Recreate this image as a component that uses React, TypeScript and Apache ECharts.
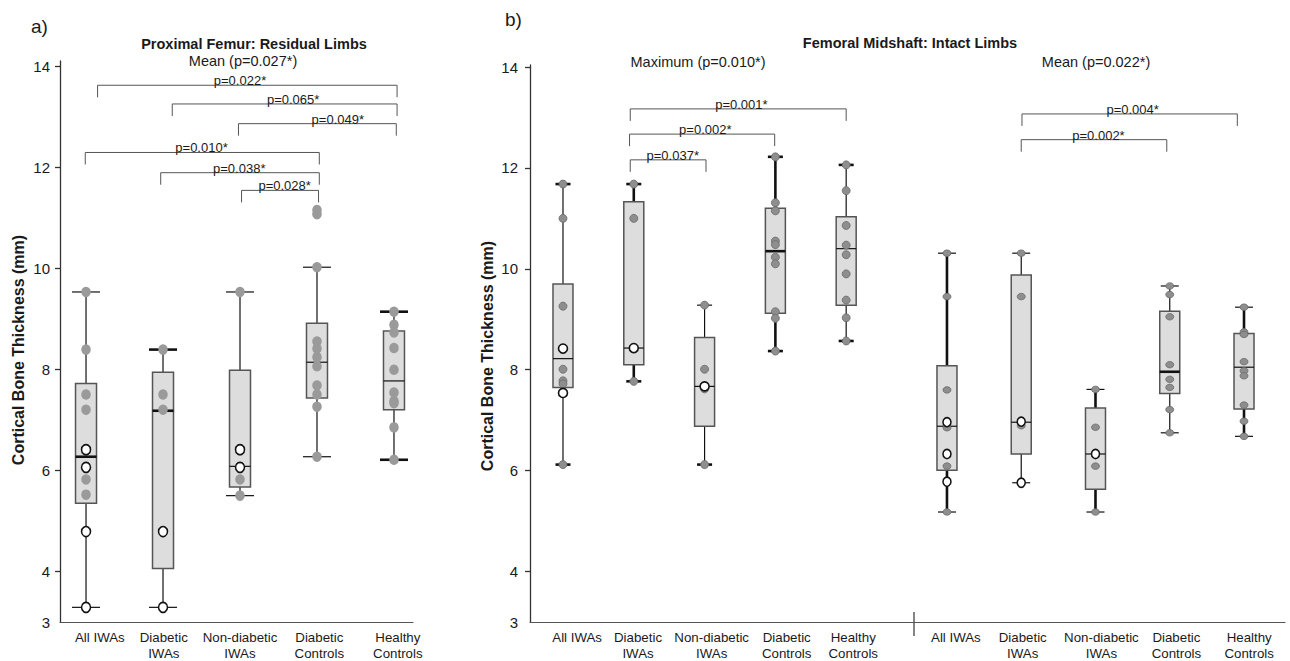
import React, { useEffect, useRef } from "react";
import * as echarts from "echarts";

const FONT = "Liberation Sans, Arial, Helvetica, sans-serif";

const categories = ["All IWAs", "Diabetic\nIWAs", "Non-diabetic\nIWAs", "Diabetic\nControls", "Healthy\nControls"];
const yLabelValues = [3, 4, 6, 8, 10, 12, 14];
const yTickValues = [4, 6, 8, 10, 12, 14];

// Proximal femur, residual limbs, mean: [min, Q1, median, Q3, max]
const residualMeanBox = [
  [3.29, 5.35, 6.27, 7.72, 9.53],
  [3.29, 4.06, 7.18, 7.94, 8.39],
  [5.5, 5.67, 6.08, 7.98, 9.53],
  [6.27, 7.43, 8.14, 8.91, 10.02],
  [6.21, 7.2, 7.77, 8.76, 9.14],
];
const residualMeanFilled = [
  [9.53, 8.39, 7.5, 7.2, 5.82, 5.52],
  [8.39, 7.5, 7.2],
  [9.53, 5.82, 5.5],
  [11.15, 11.07, 10.02, 8.55, 8.41, 8.24, 8.06, 7.68, 7.5, 7.26, 6.27],
  [9.14, 8.88, 8.73, 8.42, 7.99, 7.54, 7.37, 7.33, 6.85, 6.21],
];
const residualMeanOpen = [[6.41, 6.06, 4.79, 3.29], [4.79, 3.29], [6.41, 6.06], [], []];
const residualPairs = ["p=0.022*", "p=0.065*", "p=0.049*", "p=0.010*", "p=0.038*", "p=0.028*"];
// [from, to, level, label position]
const residualBrackets = [
  [0.15, 4.04, 13.62, 2.0],
  [1.12, 4.04, 13.25, 2.69],
  [1.98, 4.03, 12.86, 3.27],
  [-0.01, 3.03, 12.29, 1.5],
  [0.97, 3.03, 11.89, 1.99],
  [2.02, 3.02, 11.54, 2.58],
];

// Femoral midshaft, intact limbs, maximum
const midMaxBox = [
  [6.12, 7.65, 8.22, 9.7, 11.68],
  [7.77, 8.1, 8.43, 11.33, 11.68],
  [6.12, 6.88, 7.67, 8.64, 9.28],
  [8.37, 9.12, 10.35, 11.2, 12.22],
  [8.57, 9.28, 10.4, 11.03, 12.06],
];
const midMaxFilled = [
  [11.68, 11.0, 9.26, 8.01, 7.78, 7.72, 6.12],
  [11.68, 11.0, 7.77],
  [9.28, 8.01, 7.62, 6.12],
  [12.22, 11.31, 11.15, 10.55, 10.48, 10.23, 10.1, 9.15, 9.02, 8.37],
  [12.06, 11.55, 10.86, 10.47, 10.28, 9.9, 9.38, 9.03, 8.57],
];
const midMaxOpen = [[8.42, 7.54], [8.43], [7.67], [], []];
const midMaxPairs = ["p=0.001*", "p=0.002*", "p=0.037*"];
const midMaxBrackets = [
  [0.95, 4.0, 13.17, 2.52],
  [0.94, 2.99, 12.67, 2.01],
  [0.95, 2.02, 12.16, 1.55],
];

// Femoral midshaft, intact limbs, mean
const midMeanBox = [
  [5.18, 6.01, 6.88, 8.08, 10.31],
  [5.76, 6.33, 6.96, 9.88, 10.31],
  [5.18, 5.63, 6.33, 7.24, 7.61],
  [6.75, 7.53, 7.96, 9.16, 9.66],
  [6.68, 7.22, 8.05, 8.72, 9.24],
];
const midMeanFilled = [
  [10.31, 9.45, 7.6, 6.85, 6.09, 5.18],
  [10.31, 9.45, 6.89],
  [7.61, 6.86, 6.09, 5.18],
  [9.66, 9.49, 9.05, 8.1, 7.81, 7.65, 7.21, 6.75],
  [9.24, 8.75, 8.7, 8.16, 7.98, 7.88, 7.3, 6.98, 6.68],
];
const midMeanOpen = [[6.96, 6.33, 5.78], [6.97, 5.76], [6.33], [], []];
const midMeanPairs = ["p=0.004*", "p=0.002*"];
const midMeanBrackets = [
  [1.01, 3.91, 13.07, 2.5],
  [1.0, 2.96, 12.56, 2.04],
];

// line styles (thin / thick) per box
const T = 1.2;
const K = 2.6;
const styleA = {
  whisker: [T, T, T, T, T],
  capTop: [T, K, T, T, K],
  capBot: [T, T, T, T, K],
  median: [K, K, T, T, T],
  boxWidth: 21,
  capWidth: 28,
};
const styleB1 = {
  whisker: [T, K, T, K, T],
  capTop: [K, K, T, K, K],
  capBot: [K, K, K, K, K],
  median: [T, T, T, K, T],
  boxWidth: 20,
  capWidth: 15,
};
const styleB2 = {
  whisker: [K, T, K, T, K],
  capTop: [T, T, T, T, T],
  capBot: [T, T, T, T, T],
  median: [T, T, T, K, T],
  boxWidth: 20,
  capWidth: 18,
};

function boxRenderer(st: any) {
  return (params: any, api: any) => {
    const i = params.dataIndex;
    const x = api.value(0);
    const lo = api.coord([x, api.value(1)]);
    const q1 = api.coord([x, api.value(2)]);
    const md = api.coord([x, api.value(3)]);
    const q3 = api.coord([x, api.value(4)]);
    const hi = api.coord([x, api.value(5)]);
    const cx = lo[0];
    const bw = st.boxWidth;
    const cw = st.capWidth;
    const ink = "#111";
    return {
      type: "group",
      children: [
        { type: "line", shape: { x1: cx, y1: hi[1], x2: cx, y2: q3[1] }, style: { stroke: ink, lineWidth: st.whisker[i] } },
        { type: "line", shape: { x1: cx, y1: q1[1], x2: cx, y2: lo[1] }, style: { stroke: ink, lineWidth: st.whisker[i] } },
        {
          type: "rect",
          shape: { x: cx - bw / 2, y: q3[1], width: bw, height: q1[1] - q3[1] },
          style: { fill: "#dcdddc", stroke: "#555", lineWidth: 1.5 },
        },
        { type: "line", shape: { x1: cx - bw / 2, y1: md[1], x2: cx + bw / 2, y2: md[1] }, style: { stroke: ink, lineWidth: st.median[i] } },
        { type: "line", shape: { x1: cx - cw / 2, y1: hi[1], x2: cx + cw / 2, y2: hi[1] }, style: { stroke: ink, lineWidth: st.capTop[i] } },
        { type: "line", shape: { x1: cx - cw / 2, y1: lo[1], x2: cx + cw / 2, y2: lo[1] }, style: { stroke: ink, lineWidth: st.capBot[i] } },
      ],
    };
  };
}

function bracketRenderer(texts: string[]) {
  return (params: any, api: any) => {
    const a = api.coord([api.value(0), api.value(2)]);
    const b = api.coord([api.value(1), api.value(2)]);
    const l = api.coord([api.value(3), api.value(2)]);
    const leg = 12;
    return {
      type: "group",
      children: [
        {
          type: "polyline",
          shape: { points: [[a[0], a[1] + leg], [a[0], a[1]], [b[0], b[1]], [b[0], b[1] + leg]] },
          style: { stroke: "#555", lineWidth: 1, fill: null },
        },
        {
          type: "text",
          x: l[0],
          y: l[1] + 2,
          style: {
            text: texts[params.dataIndex],
            fontSize: 13,
            fontFamily: FONT,
            fill: "#1a1a1a",
            align: "center",
            verticalAlign: "bottom",
            textAlign: "center",
            textVerticalAlign: "bottom",
          },
        },
      ],
    };
  };
}

function toPoints(groups: number[][]) {
  const out: number[][] = [];
  groups.forEach((vals, i) => vals.forEach((v) => out.push([i, v])));
  return out;
}

function panelSeries(idx: number, box: number[][], filled: number[][], open: number[][], st: any, brackets: number[][] | null, texts: string[] | null, filledStyle: any, filledSize: any, openSize: any) {
  const s: any[] = [
    {
      type: "custom",
      xAxisIndex: idx,
      yAxisIndex: idx,
      renderItem: boxRenderer(st),
      data: box.map((b, i) => [i, ...b]),
      encode: { x: 0, y: [1, 2, 3, 4, 5] },
      z: 2,
      silent: true,
    },
    {
      type: "scatter",
      xAxisIndex: idx,
      yAxisIndex: idx,
      data: toPoints(filled),
      symbol: "circle",
      symbolSize: filledSize,
      itemStyle: filledStyle,
      z: 3,
      silent: true,
    },
    {
      type: "scatter",
      xAxisIndex: idx,
      yAxisIndex: idx,
      data: toPoints(open),
      symbol: "circle",
      symbolSize: openSize,
      itemStyle: { color: "#fff", borderColor: "#111", borderWidth: 1.6, opacity: 1 },
      z: 4,
      silent: true,
    },
  ];
  if (brackets && texts) {
    s.push({
      type: "custom",
      xAxisIndex: idx,
      yAxisIndex: idx,
      renderItem: bracketRenderer(texts),
      data: brackets,
      encode: { x: [0, 1], y: 2 },
      z: 2,
      silent: true,
    });
  }
  return s;
}

function xAxisCfg(gridIndex: number, min: number, max: number, labelPos: number[]) {
  return {
    type: "value",
    gridIndex,
    min,
    max,
    axisLine: { show: true, onZero: false, lineStyle: { color: "#555", width: 1.2 } },
    axisTick: { show: false },
    splitLine: { show: false },
    axisLabel: {
      customValues: labelPos,
      formatter: (v: number) => categories[Math.round(v)] || "",
      fontSize: 13.3,
      lineHeight: 16,
      color: "#1a1a1a",
      fontFamily: FONT,
      margin: 7,
    },
  };
}

function yAxisCfg(gridIndex: number, max: number, show: boolean, margin: number) {
  return {
    type: "value",
    gridIndex,
    min: 3,
    max,
    show,
    axisLine: { show: true, onZero: false, lineStyle: { color: "#333", width: 1.3 } },
    axisTick: { show: true, length: 5, customValues: yTickValues, lineStyle: { color: "#333", width: 1.3 } },
    splitLine: { show: false },
    axisLabel: {
      customValues: yLabelValues,
      fontSize: 15,
      color: "#1a1a1a",
      fontFamily: FONT,
      margin,
    },
  };
}

function txt(text: string, x: number, y: number, size: number, bold = false, align = "center", rotation = 0) {
  return {
    type: "text",
    x,
    y,
    rotation,
    silent: true,
    style: {
      text,
      fontSize: size,
      fontWeight: bold ? "bold" : "normal",
      fontFamily: FONT,
      fill: "#1a1a1a",
      align,
      verticalAlign: "middle",
      textAlign: align,
      textVerticalAlign: "middle",
    },
  };
}

export default function App() {
  const ref = useRef<HTMLDivElement>(null);
  useEffect(() => {
    if (!ref.current) return;
    const chart = echarts.init(ref.current, null, { renderer: "svg" });
    const grayA = { color: "#9a9a9a", opacity: 1 };
    const grayB = { color: "#8e8e8e", borderColor: "#6a6a6a", borderWidth: 0.8, opacity: 1 };
    const option: any = {
      animation: false,
      backgroundColor: "#fff",
      grid: [
        { left: 60, top: 61, width: 353, height: 562 },
        { left: 530, top: 65, width: 384, height: 559 },
        { left: 914, top: 65, width: 371, height: 559 },
      ],
      xAxis: [
        xAxisCfg(0, -0.338, 4.247, [0.18, 1.01, 2.0, 3.03, 4.05]),
        xAxisCfg(1, -0.466, 4.958, [0.2, 1.06, 2.1, 3.16, 4.1]),
        xAxisCfg(2, -0.444, 4.552, [0.12, 1.02, 2.08, 3.09, 4.07]),
      ],
      yAxis: [yAxisCfg(0, 14.1, true, 10), yAxisCfg(1, 14.04, true, 12), yAxisCfg(2, 14.04, false, 12)],
      series: [
        ...panelSeries(0, residualMeanBox, residualMeanFilled, residualMeanOpen, styleA, residualBrackets, residualPairs, grayA, [9.5, 10.5], [9, 10]),
        ...panelSeries(1, midMaxBox, midMaxFilled, midMaxOpen, styleB1, midMaxBrackets, midMaxPairs, grayB, [8, 8], [9, 9]),
        ...panelSeries(2, midMeanBox, midMeanFilled, midMeanOpen, styleB2, midMeanBrackets, midMeanPairs, grayB, [8, 6.5], [8, 9]),
      ],
      graphic: [
        txt("a)", 31, 26, 19, false, "left"),
        txt("b)", 505, 19, 19, false, "left"),
        txt("Proximal Femur: Residual Limbs", 254, 44, 14.5, true),
        txt("Mean (p=0.027*)", 243, 61, 14.5),
        txt("Femoral Midshaft: Intact Limbs", 910, 43, 14.5, true),
        txt("Maximum (p=0.010*)", 698, 62, 14.5),
        txt("Mean (p=0.022*)", 1096, 62, 14.5),
        txt("Cortical Bone Thickness (mm)", 18, 350, 16, true, "center", Math.PI / 2),
        txt("Cortical Bone Thickness (mm)", 487, 356, 16, true, "center", Math.PI / 2),
        {
          type: "line",
          silent: true,
          shape: { x1: 914, y1: 612, x2: 914, y2: 636 },
          style: { stroke: "#333", lineWidth: 1.2 },
        },
      ],
    };
    chart.setOption(option);
    return () => chart.dispose();
  }, []);
  return <div ref={ref} style={{ position: "absolute", left: 0, top: 0, width: 1290, height: 661 }} />;
}
